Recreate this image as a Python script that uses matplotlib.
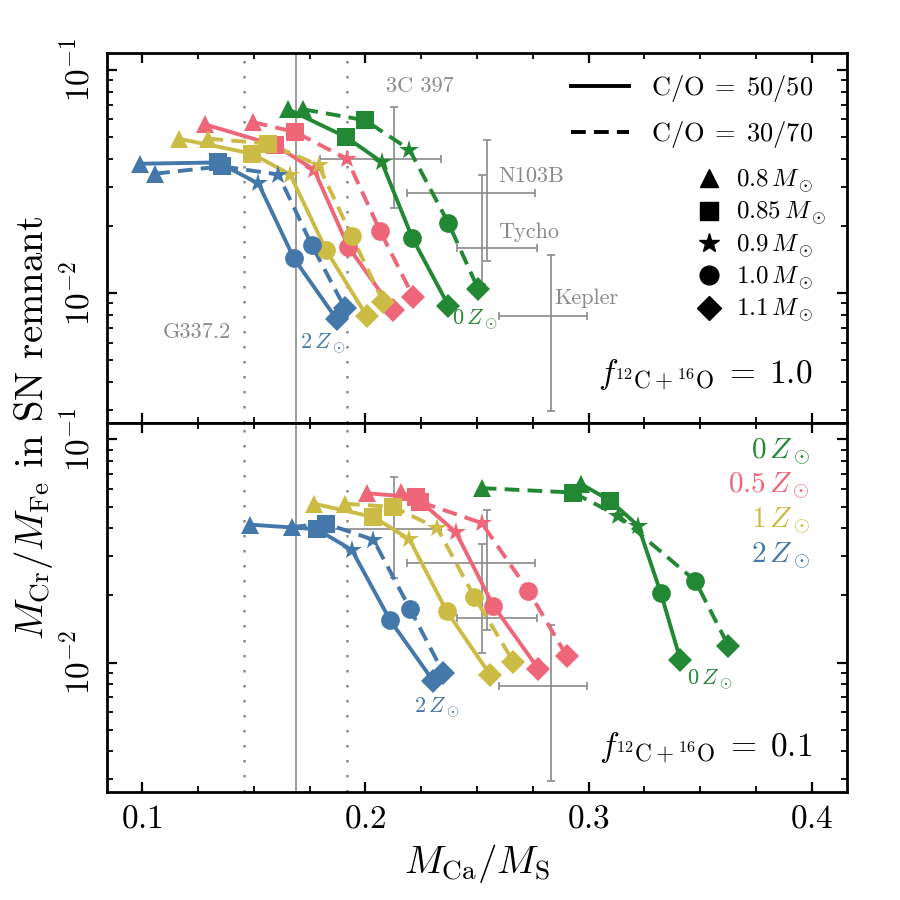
import matplotlib
matplotlib.use('Agg')
import matplotlib.pyplot as plt
from matplotlib.lines import Line2D
from matplotlib.ticker import MultipleLocator, NullFormatter

plt.rcParams.update({
    'font.family': 'serif',
    'font.serif': ['cmr10'],
    'mathtext.fontset': 'cm',
    'axes.formatter.use_mathtext': True,
    'axes.unicode_minus': False,
})

# progenitor masses and metallicities (rows: 0, 0.5, 1, 2 Zsun)
masses = ['0.8', '0.85', '0.9', '1.0', '1.1']
mass_markers = ['^', 's', '*', 'o', 'D']
metallicities = ['0', '0.5', '1', '2']
z_colors = ['#228833', '#EE6677', '#CCBB44', '#4477AA']

# f = 1.0, C/O = 50/50
top_5050_ca_s = [[0.1655, 0.1914, 0.2073, 0.2211, 0.2372],
                 [0.1282, 0.1596, 0.1770, 0.1924, 0.2125],
                 [0.1163, 0.1491, 0.1663, 0.1824, 0.2006],
                 [0.0991, 0.1340, 0.1521, 0.1680, 0.1872]]
top_5050_cr_fe = [[0.0666, 0.0500, 0.0387, 0.0176, 0.0088],
                  [0.0570, 0.0460, 0.0357, 0.0161, 0.0084],
                  [0.0492, 0.0422, 0.0340, 0.0156, 0.00789],
                  [0.0380, 0.0385, 0.0310, 0.0143, 0.00762]]
# f = 1.0, C/O = 30/70
top_3070_ca_s = [[0.1722, 0.1999, 0.2197, 0.2372, 0.2506],
                 [0.1496, 0.1685, 0.1917, 0.2066, 0.2215],
                 [0.1297, 0.1566, 0.1790, 0.1939, 0.2080],
                 [0.1058, 0.1358, 0.1610, 0.1760, 0.1909]]
top_3070_cr_fe = [[0.0666, 0.0595, 0.0440, 0.0206, 0.0104],
                  [0.0584, 0.0527, 0.0400, 0.0190, 0.0096],
                  [0.0492, 0.0468, 0.0374, 0.0180, 0.00914],
                  [0.0343, 0.0370, 0.0340, 0.0164, 0.00855]]
# f = 0.1, C/O = 50/50
bot_5050_ca_s = [[0.2965, 0.3096, 0.3222, 0.3324, 0.3411],
                 [0.2006, 0.2226, 0.2406, 0.2573, 0.2775],
                 [0.1770, 0.2036, 0.2197, 0.2364, 0.2558],
                 [0.1484, 0.1782, 0.1939, 0.2111, 0.2305]]
bot_5050_cr_fe = [[0.0632, 0.0532, 0.0410, 0.0204, 0.0103],
                  [0.0574, 0.0550, 0.0383, 0.0180, 0.00937],
                  [0.0515, 0.0449, 0.0357, 0.0170, 0.00884],
                  [0.0415, 0.0396, 0.0320, 0.01546, 0.00825]]
# f = 0.1, C/O = 30/70
bot_3070_ca_s = [[0.2521, 0.2929, 0.3133, 0.3477, 0.3626],
                 [0.2159, 0.2245, 0.2521, 0.2730, 0.2902],
                 [0.1909, 0.2125, 0.2322, 0.2488, 0.2663],
                 [0.1670, 0.1824, 0.2036, 0.2200, 0.2349]]
bot_3070_cr_fe = [[0.0605, 0.0578, 0.0455, 0.0233, 0.0119],
                  [0.0584, 0.0525, 0.0422, 0.0210, 0.0107],
                  [0.0515, 0.0498, 0.0400, 0.0197, 0.0101],
                  [0.0405, 0.0419, 0.0355, 0.0174, 0.0090]]

# observed SN remnants
snr_names = ['3C 397', 'N103B', 'Tycho', 'Kepler']
snr_ca_s = [0.2129, 0.2545, 0.2521, 0.2830]
snr_ca_s_lo = [0.1797, 0.2187, 0.2411, 0.2599]
snr_ca_s_hi = [0.2339, 0.2760, 0.2769, 0.2993]
snr_cr_fe = [0.0398, 0.0280, 0.0159, 0.00789]
snr_cr_fe_lo = [0.0240, 0.0140, 0.0110, 0.00296]
snr_cr_fe_hi = [0.0679, 0.0484, 0.0340, 0.0148]
snr_label_x = [0.2245, 0.2745, 0.2733, 0.2991]
snr_label_y = [0.0844, 0.0335, 0.0187, 0.00947]
g337_ca_s = 0.169
g337_ca_s_lo = 0.1458
g337_ca_s_hi = 0.1918

LW = 2.8
DASH = (3.8, 2.1)
GRAY = '#8a8a8a'


def draw_obs(ax):
    ax.axvline(g337_ca_s, color=GRAY, lw=1.2, zorder=1)
    for xv in (g337_ca_s_lo, g337_ca_s_hi):
        ax.axvline(xv, color=GRAY, lw=1.8, ls=(0, (1, 5)), zorder=1)
    for i in range(len(snr_names)):
        xe = [[snr_ca_s[i] - snr_ca_s_lo[i]], [snr_ca_s_hi[i] - snr_ca_s[i]]]
        ye = [[snr_cr_fe[i] - snr_cr_fe_lo[i]], [snr_cr_fe_hi[i] - snr_cr_fe[i]]]
        ax.errorbar([snr_ca_s[i]], [snr_cr_fe[i]], xerr=xe, yerr=ye, fmt='none',
                    ecolor=GRAY, elinewidth=1.2, capsize=3, capthick=1.2, zorder=1)


def draw_models(ax, xs_solid, ys_solid, xs_dash, ys_dash):
    for k in range(len(metallicities)):
        c = z_colors[k]
        for xs, ys, dashed in ((xs_solid, ys_solid, False), (xs_dash, ys_dash, True)):
            line, = ax.plot(xs[k], ys[k], color=c, lw=LW, zorder=2)
            if dashed:
                line.set_dashes(DASH)
            for j, m in enumerate(mass_markers):
                ms = 15 if m == '*' else (12.5 if m == 'D' else 13.5)
                ax.plot(xs[k][j], ys[k][j], marker=m, ms=ms, color=c,
                        mec=c, mew=0, ls='none', zorder=3)


fig, (ax1, ax2) = plt.subplots(2, 1, sharex=True, figsize=(9, 9), dpi=100)
plt.subplots_adjust(left=0.119, right=0.941, top=0.941, bottom=0.12, hspace=0)

for ax in (ax1, ax2):
    draw_obs(ax)
    ax.set_yscale('log')
    ax.set_ylim(0.00263, 0.119)
    ax.set_xlim(0.0843, 0.4157)
    ax.xaxis.set_major_locator(MultipleLocator(0.1))
    ax.xaxis.set_minor_locator(MultipleLocator(0.025))
    ax.yaxis.set_minor_formatter(NullFormatter())
    ax.tick_params(which='both', direction='in', top=True, right=True, labelsize=24)
    ax.tick_params(which='major', length=7, width=1.6, pad=9)
    ax.tick_params(which='minor', length=4, width=1.3)
    ax.tick_params(axis='y', labelrotation=90)
    for lab in ax.get_yticklabels():
        lab.set_va('center')
    for s in ax.spines.values():
        s.set_linewidth(2)

draw_models(ax1, top_5050_ca_s, top_5050_cr_fe, top_3070_ca_s, top_3070_cr_fe)
draw_models(ax2, bot_5050_ca_s, bot_5050_cr_fe, bot_3070_ca_s, bot_3070_cr_fe)

# SNR labels
for i, name in enumerate(snr_names):
    ax1.text(snr_label_x[i], snr_label_y[i], name, color=GRAY, fontsize=16,
             ha='center', va='center')
ax1.text(0.1246, 0.0067, 'G337.2', color=GRAY, fontsize=16, ha='center', va='center')

# metallicity labels on curves
ax1.text(0.181, 0.00597, r'$2\,Z_\odot$', color=z_colors[3], fontsize=16, ha='center', va='center')
ax1.text(0.249, 0.00757, r'$0\,Z_\odot$', color=z_colors[0], fontsize=16, ha='center', va='center')
ax2.text(0.232, 0.00627, r'$2\,Z_\odot$', color=z_colors[3], fontsize=16, ha='center', va='center')
ax2.text(0.3544, 0.0084, r'$0\,Z_\odot$', color=z_colors[0], fontsize=16, ha='center', va='center')

# metallicity key in lower panel
z_key_y = [0.919, 0.827, 0.732, 0.637]
for k in range(len(metallicities)):
    ax2.text(0.95, z_key_y[k], r'$%s\,Z_\odot$' % metallicities[k], color=z_colors[k],
             fontsize=21, ha='right', va='center', transform=ax2.transAxes)

# f labels
ax1.text(0.953, 0.130, r'$f_{{}^{12}\mathrm{C}+{}^{16}\mathrm{O}}\;=\;1.0$', fontsize=24,
         ha='right', va='center', transform=ax1.transAxes)
ax2.text(0.953, 0.119, r'$f_{{}^{12}\mathrm{C}+{}^{16}\mathrm{O}}\;=\;0.1$', fontsize=24,
         ha='right', va='center', transform=ax2.transAxes)

# legends
co_handles = [Line2D([], [], color='k', lw=LW, label=r'$\mathrm{C/O}\;=\;50/50$'),
              Line2D([], [], color='k', lw=LW, dashes=DASH, label=r'$\mathrm{C/O}\;=\;30/70$')]
leg1 = ax1.legend(handles=co_handles, loc='upper right', bbox_to_anchor=(0.955, 0.945),
                  frameon=False, fontsize=19, handlelength=2.2, handletextpad=0.85,
                  labelspacing=0.55, borderaxespad=0, borderpad=0)
ax1.add_artist(leg1)
mass_handles = [Line2D([], [], color='k', marker=m, ls='none',
                       ms=(15 if m == '*' else (12.5 if m == 'D' else 13.5)),
                       label=r'$%s\,M_\odot$' % mv) for m, mv in zip(mass_markers, masses)]
ax1.legend(handles=mass_handles, loc='upper right', bbox_to_anchor=(0.972, 0.69),
           frameon=False, fontsize=18, handlelength=1.0, handletextpad=0.6,
           labelspacing=0.2, borderaxespad=0, borderpad=0, numpoints=1)

ax2.set_xlabel(r'$M_{\mathrm{Ca}}/M_{\mathrm{S}}$', fontsize=28, labelpad=6)
fig.text(0.037, 0.525, r'$M_{\mathrm{Cr}}/M_{\mathrm{Fe}}$ in SN remnant', fontsize=28,
         rotation=90, ha='center', va='center')

fig.savefig('out.png', dpi=100)
